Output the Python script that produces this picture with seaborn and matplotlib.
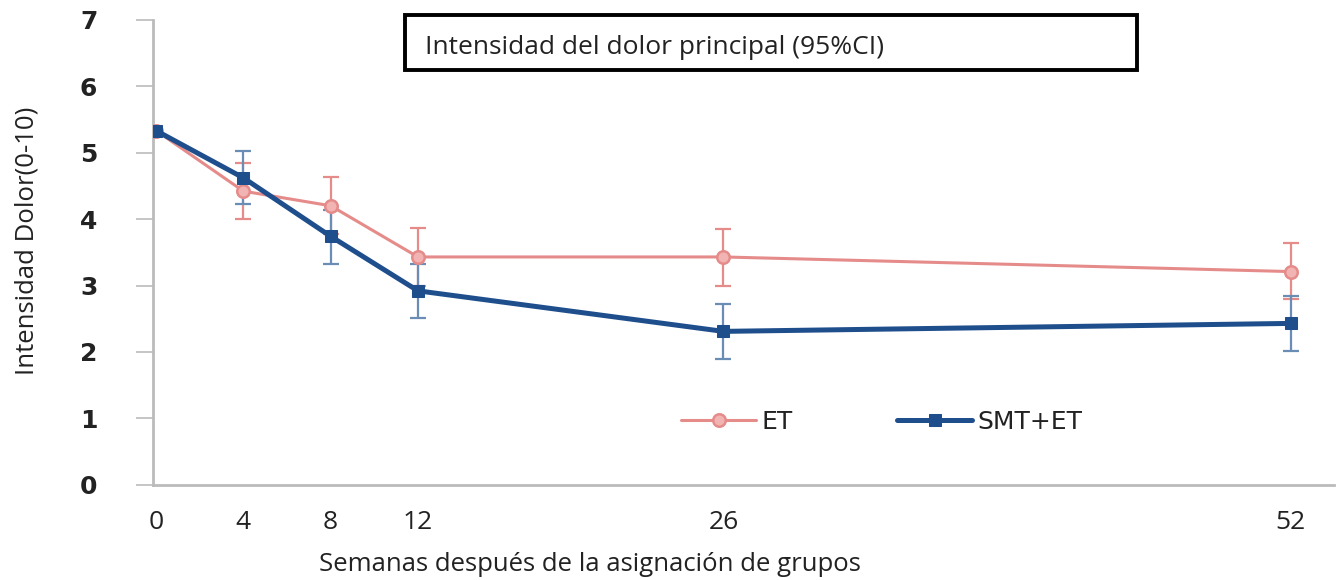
import matplotlib
matplotlib.use("Agg")
import matplotlib.pyplot as plt
import seaborn as sns
import pandas as pd
from matplotlib.patches import Rectangle

weeks = [0, 4, 8, 12, 26, 52]
et_mean = [5.33, 4.42, 4.20, 3.43, 3.43, 3.21]
et_low = [5.33, 4.00, 3.78, 3.00, 3.00, 2.80]
et_high = [5.33, 4.85, 4.63, 3.86, 3.85, 3.64]
smt_mean = [5.33, 4.62, 3.74, 2.92, 2.31, 2.43]
smt_low = [5.33, 4.22, 3.33, 2.51, 1.90, 2.02]
smt_high = [5.33, 5.03, 4.14, 3.33, 2.72, 2.84]
series_names = ["ET", "SMT+ET"]
x_ticks = [0, 4, 8, 12, 26, 52]
y_ticks = [0, 1, 2, 3, 4, 5, 6, 7]

pink = "#E58C8A"
pink_face = "#F2B4B2"
blue = "#1F4E8C"
blue_err = "#6A8DB5"

df = pd.DataFrame({
    "week": weeks + weeks,
    "score": et_mean + smt_mean,
    "group": [series_names[0]] * len(weeks) + [series_names[1]] * len(weeks),
})

sns.set_style("white")
fig = plt.figure(figsize=(13.41, 5.80), dpi=100)
ax = fig.add_axes([0.114, 0.164, 0.881, 0.802])

# confidence intervals
for mean, lo, hi, col in [(et_mean, et_low, et_high, pink),
                          (smt_mean, smt_low, smt_high, blue_err)]:
    xs = [w for w, l, h in zip(weeks, lo, hi) if h > l]
    ms = [m for m, l, h in zip(mean, lo, hi) if h > l]
    err = [[m - l for m, l, h in zip(mean, lo, hi) if h > l],
           [h - m for m, l, h in zip(mean, lo, hi) if h > l]]
    ax.errorbar(xs, ms, yerr=err, fmt="none", ecolor=col, elinewidth=1.6,
                capsize=6, capthick=1.6, zorder=2)

sns.lineplot(data=df[df.group == series_names[0]], x="week", y="score",
             ax=ax, color=pink, linewidth=2.2, marker="o", markersize=9,
             markerfacecolor=pink_face, markeredgecolor=pink,
             markeredgewidth=1.8, label=series_names[0], zorder=3)
sns.lineplot(data=df[df.group == series_names[1]], x="week", y="score",
             ax=ax, color=blue, linewidth=3.6, marker="s", markersize=9,
             markerfacecolor=blue, markeredgecolor=blue,
             label=series_names[1], zorder=4)

ax.set_xlim(-0.15, 54.0)
ax.set_ylim(0, 7)
ax.set_xticks(x_ticks)
ax.set_xticklabels([str(t) for t in x_ticks], fontsize=19,
                   fontfamily="Open Sans", color="#222222")
ax.set_yticks(y_ticks)
ax.set_yticklabels([str(t) for t in y_ticks], fontsize=18,
                   fontweight="bold", fontfamily="DejaVu Sans", color="#222222")
ax.tick_params(axis="y", direction="out", length=12, width=1.2,
               color="#BBBBBB", pad=28, left=True)
ax.tick_params(axis="x", length=0, pad=18)

for side in ["top", "right"]:
    ax.spines[side].set_visible(False)
for side in ["left", "bottom"]:
    ax.spines[side].set_color("#BBBBBB")
    ax.spines[side].set_linewidth(2.0)

ax.set_xlabel("")
ax.set_ylabel("")
fig.text(0.020, 0.585, "Intensidad Dolor(0-10)", rotation=90, fontsize=18.5,
         ha="center", va="center", fontfamily="Open Sans", color="#222222")
fig.text(0.440, 0.027, "Semanas después de la asignación de grupos",
         fontsize=18.5, ha="center", va="center", fontfamily="Open Sans",
         color="#222222")

# boxed heading
fig.patches.append(Rectangle((0.302, 0.880), 0.546, 0.095,
                             transform=fig.transFigure, fill=False,
                             edgecolor="black", linewidth=2.8))
fig.text(0.317, 0.918, "Intensidad del dolor principal (95%CI)", fontsize=19,
         ha="left", va="center", fontfamily="Open Sans", color="#222222")

leg = ax.legend(loc="center", bbox_to_anchor=(0.617, 0.135), ncol=2,
                frameon=False, fontsize=18, handlelength=3.0,
                columnspacing=4.2, handletextpad=0.2)
for t in leg.get_texts():
    t.set_fontfamily("DejaVu Sans")
    t.set_color("#222222")

fig.savefig("out.png", dpi=100, facecolor="white")
